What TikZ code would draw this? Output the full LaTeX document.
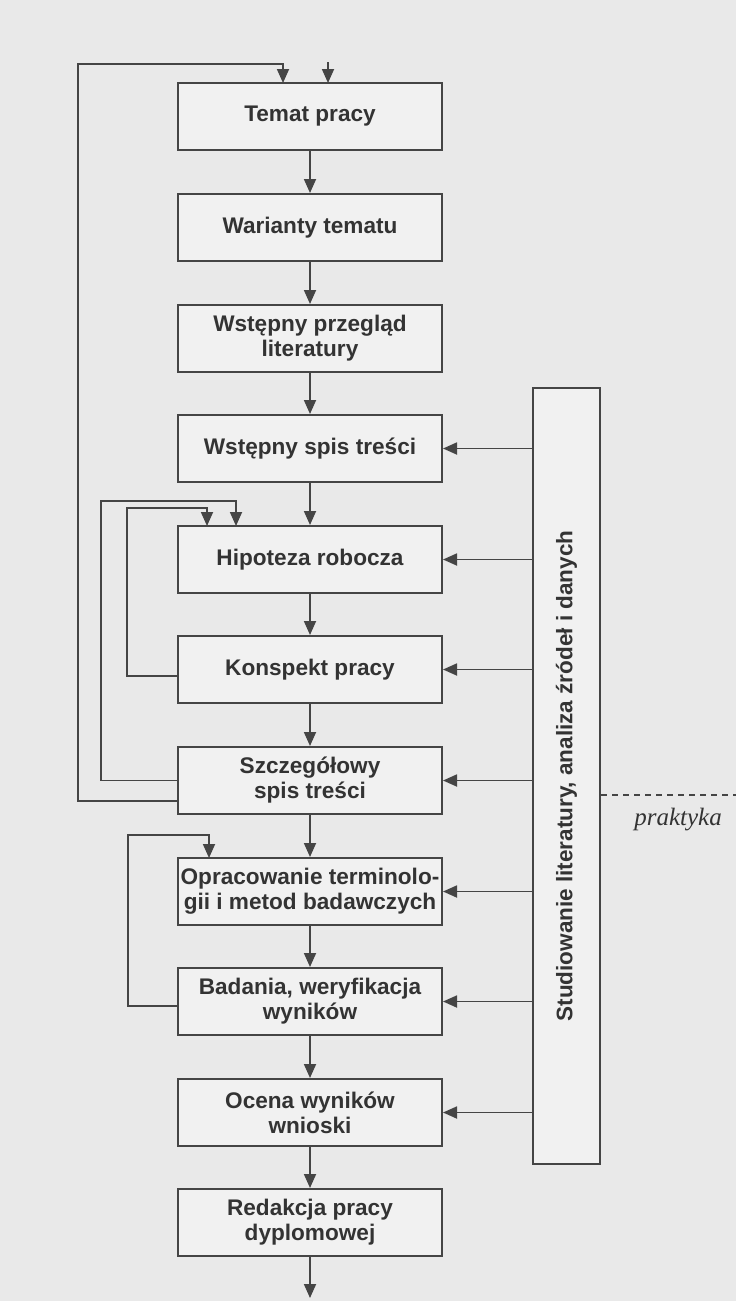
\documentclass[tikz,border=0pt]{standalone}
\usepackage{fontspec}
\setmainfont{Liberation Sans}
\newfontfamily\itserif{Liberation Serif}
\usetikzlibrary{arrows.meta,calc}
\definecolor{bg}{HTML}{E9E9E9}
\definecolor{boxfill}{HTML}{F1F1F1}
\definecolor{ink}{HTML}{454545}
\definecolor{txt}{HTML}{333333}
\begin{document}
\begin{tikzpicture}[x=1pt,y=-1pt,
  stepbox/.style={draw=ink,line width=2pt,fill=boxfill,minimum width=264pt,minimum height=67pt,
    inner sep=0pt,align=center,text=txt,font=\fontsize{22.6}{25}\selectfont\bfseries},
  conn/.style={draw=ink,line width=1.8pt,-{Triangle[length=14pt,width=12pt]}},
  plain/.style={draw=ink,line width=1.8pt}]
\fill[bg] (0,0) rectangle (736,1301);
\useasboundingbox (0,0) rectangle (736,1301);
\node[stepbox] (b1) at (310,116.5) {Temat pracy};
\node[stepbox] (b2) at (310,227.5) {Warianty tematu};
\node[stepbox] (b3) at (310,338.5) {Wstępny przegląd\\literatury};
\node[stepbox] (b4) at (310,448.5) {Wstępny spis treści};
\node[stepbox] (b5) at (310,559.5) {Hipoteza robocza};
\node[stepbox] (b6) at (310,669.5) {Konspekt pracy};
\node[stepbox] (b7) at (310,780.5) {Szczegółowy\\spis treści};
\node[stepbox] (b8) at (310,891.5) {Opracowanie terminolo-\\gii i metod badawczych};
\node[stepbox] (b9) at (310,1001.5) {Badania, weryfikacja\\wyników};
\node[stepbox] (b10) at (310,1112.5) {Ocena wyników\\wnioski};
\node[stepbox] (b11) at (310,1222.5) {Redakcja pracy\\dyplomowej};
\node[draw=ink,line width=2pt,fill=boxfill,minimum width=67pt,minimum height=776pt,inner sep=0pt] (lit) at (566.5,776) {};
\node[rotate=90,text=txt,font=\fontsize{22.5}{25}\selectfont\bfseries] (littxt) at (lit.center) {Studiowanie literatury, analiza źródeł i danych};
\node[text=txt,font=\fontsize{25}{28}\selectfont\itserif\itshape] (prak) at (678,820) {praktyka};
% main chain
\foreach \a/\b in {b1/b2,b2/b3,b3/b4,b4/b5,b5/b6,b6/b7,b7/b8,b8/b9,b9/b10,b10/b11}
  \draw[conn] (\a) -- (\b);
\coordinate (end) at (310,1298);
\draw[conn] (b11) -- (end);
% literature arrows
\foreach \b in {b4,b5,b6,b7,b8,b9,b10}
  \draw[conn] (lit.west |- \b.east) -- (\b.east);
% top arrows
\coordinate (topfree) at (328,62);
\draw[conn] (topfree) -- (328,83);
% outer loop
\draw[conn] ($(b7.west)+(0,20.5)$) -| (78,64) -| (283,83);
% inner loops
\draw[conn] (b7.west) -| (101,501) -| (236,526);
\draw[conn] ($(b6.west)+(0,6.5)$) -| (127,508) -| (207,526);
\draw[conn] ($(b9.west)+(0,4.5)$) -| (128,835) -| (209,858);
% dashed
\coordinate (dashend) at (736,795);
\draw[ink,line width=1.4pt,dash pattern=on 6pt off 5pt] (lit.east |- dashend) -- (dashend);
\end{tikzpicture}
\end{document}
